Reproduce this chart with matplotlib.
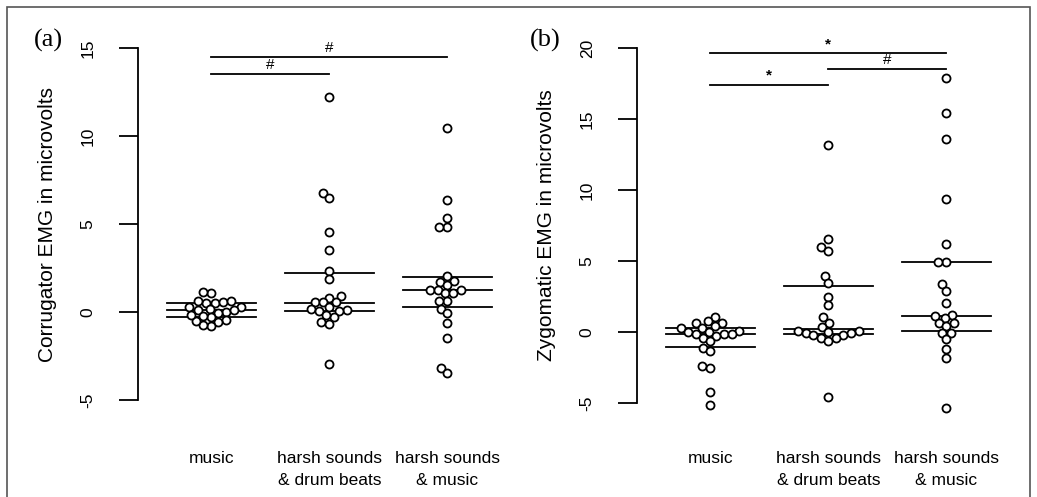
import matplotlib
matplotlib.use("Agg")
import matplotlib.pyplot as plt
import numpy as np
from matplotlib.patches import Rectangle

plt.rcParams['font.family'] = ['Liberation Sans', 'DejaVu Sans']

categories = ["music", "harsh sounds\n& drum beats", "harsh sounds\n& music"]

# Panel (a): Corrugator EMG
a_music = [1.1, 1.15, 0.53, 0.5, 0.3, 0.64, 0.58, 0.64, 0.02, -0.08, 0.11, 0.15,
           0.11, 0.27, -0.45, -0.59, -0.8, -0.74, -0.51, -0.3, -0.21, -0.17]
a_drum = [12.2, 6.78, 6.5, 4.56, 3.52, 2.33, 1.86, 0.91, 0.81, 0.59, 0.55, 0.55,
          0.3, 0.11, 0.06, 0.15, 0.06, -0.3, -0.2, -0.68, -0.59, -2.95]
a_hmusic = [10.47, 6.36, 5.36, 4.85, 4.85, 2.06, 1.76, 1.7, 1.53, 1.25, 1.25, 1.25,
            1.06, 1.1, 0.62, 0.64, 0.15, -0.08, -0.6, -1.46, -3.2, -3.48]
a_lines = [[0.5, 0.1, -0.27], [2.2, 0.53, 0.06], [2.0, 1.25, 0.27]]
a_brackets = [(1, 2, 13.52, '#'), (1, 3, 14.49, '#')]

# Panel (b): Zygomatic EMG
b_music = [1.08, 0.8, 0.66, 0.61, 0.44, 0.26, 0.26, 0.1, 0.02, 0.02, -0.14, -0.14,
           -0.14, -0.26, -0.42, -0.63, -1.13, -1.36, -2.4, -2.54, -4.25, -5.14]
b_drum = [13.2, 6.57, 6.0, 5.73, 3.97, 3.47, 2.49, 1.9, 1.03, 0.61, 0.33, 0.1,
          0.1, 0.02, -0.1, -0.1, -0.2, -0.2, -0.42, -0.42, -0.61, -4.55]
b_hmusic = [17.9, 15.45, 13.6, 9.35, 6.18, 4.9, 4.9, 3.36, 2.89, 2.02, 1.2, 1.1,
            1.0, 0.6, 0.6, 0.45, -0.05, -0.05, -0.52, -1.17, -1.83, -5.37]
b_lines = [[0.26, -0.14, -1.03], [3.26, 0.21, -0.16], [4.9, 1.12, 0.07]]
b_brackets = [(1, 3, 19.65, '*'), (2, 3, 18.52, '#'), (1, 2, 17.4, '*')]

W, H = 1037, 497
fig = plt.figure(figsize=(W / 100, H / 100), dpi=100)


def swarm_offsets(vals, xpx, ypx, d=8.0):
    vals = np.asarray(vals, float)
    order = np.argsort(vals)
    placed = []
    offs = np.zeros(len(vals))
    for i in order:
        y = vals[i] * ypx
        intervals = []
        for (px, py) in placed:
            dy = abs(py - y)
            if dy < d:
                h = np.sqrt(d * d - dy * dy)
                intervals.append((px - h, px + h))
        cands = [0.0] + [e for iv in intervals for e in iv]
        cands.sort(key=lambda c: (abs(c), c))
        chosen = 0.0
        for c in cands:
            if all(not (lo + 1e-6 < c < hi - 1e-6) for lo, hi in intervals):
                chosen = c
                break
        placed.append((chosen, y))
        offs[i] = chosen / xpx
    return offs


def panel(left_px, ylim, groups, lines, brackets, yticks, ylabel, tag, taglabel_x):
    top_px, bot_px = 30, 420
    ax = fig.add_axes([left_px / W, (H - bot_px) / H, 372 / W, (bot_px - top_px) / H])
    ax.set_xlim(0.38, 3.53)
    ax.set_ylim(*ylim)
    xpx = 372 / (3.53 - 0.38)
    ypx = (bot_px - top_px) / (ylim[1] - ylim[0])
    for k, vals in enumerate(groups):
        x0 = k + 1
        offs = swarm_offsets(vals, xpx, ypx)
        ax.plot(x0 + offs, vals, 'o', ms=5.8, mfc='white', mec='black', mew=1.3,
                zorder=3, clip_on=False)
        for v in lines[k]:
            ax.plot([x0 - 0.375, x0 + 0.375], [v, v], color='black', lw=1.3, zorder=2)
    for (g1, g2, yv, sym) in brackets:
        ax.plot([g1, g2], [yv, yv], color='black', lw=1.3, clip_on=False)
        ax.text((g1 + g2) / 2, yv + 2.0 / ypx, sym,
                ha='center', va='bottom', fontsize=11,
                fontweight='bold' if sym == '*' else 'normal')
    for s in ['top', 'right', 'bottom']:
        ax.spines[s].set_visible(False)
    ax.spines['left'].set_bounds(yticks[0], yticks[-1])
    ax.spines['left'].set_linewidth(1.3)
    ax.set_yticks(yticks)
    ax.set_yticklabels([str(t) for t in yticks])
    ax.tick_params(axis='y', length=13.5, width=1.3, pad=17, labelsize=12.5,
                   labelrotation=90)
    for lab in ax.get_yticklabels():
        lab.set_va('center')
    ax.set_xticks([1, 2, 3])
    ax.set_xticklabels(categories, fontsize=12.5, linespacing=1.6)
    ax.tick_params(axis='x', length=0, pad=22.5)
    ax.set_ylabel(ylabel, fontsize=15, labelpad=17)
    fig.text(taglabel_x / W, (H - 40) / H, tag, fontsize=19, ha='left', va='center',
             family=['Liberation Serif', 'DejaVu Serif'])
    return ax


ax_a = panel(138, (-6.14, 16.02), [a_music, a_drum, a_hmusic], a_lines, a_brackets,
             [-5, 0, 5, 10, 15], "Corrugator EMG in microvolts", "(a)", 34)
ax_b = panel(637, (-6.2, 21.27), [b_music, b_drum, b_hmusic], b_lines, b_brackets,
             [-5, 0, 5, 10, 15, 20], "Zygomatic EMG in microvolts", "(b)", 530)

fig.patches.append(Rectangle((7 / W, -0.05), (1030 - 7) / W, (H - 7) / H + 0.05,
                             transform=fig.transFigure, fill=False,
                             edgecolor='#555555', lw=1.2))

fig.savefig("out.png", dpi=100)
